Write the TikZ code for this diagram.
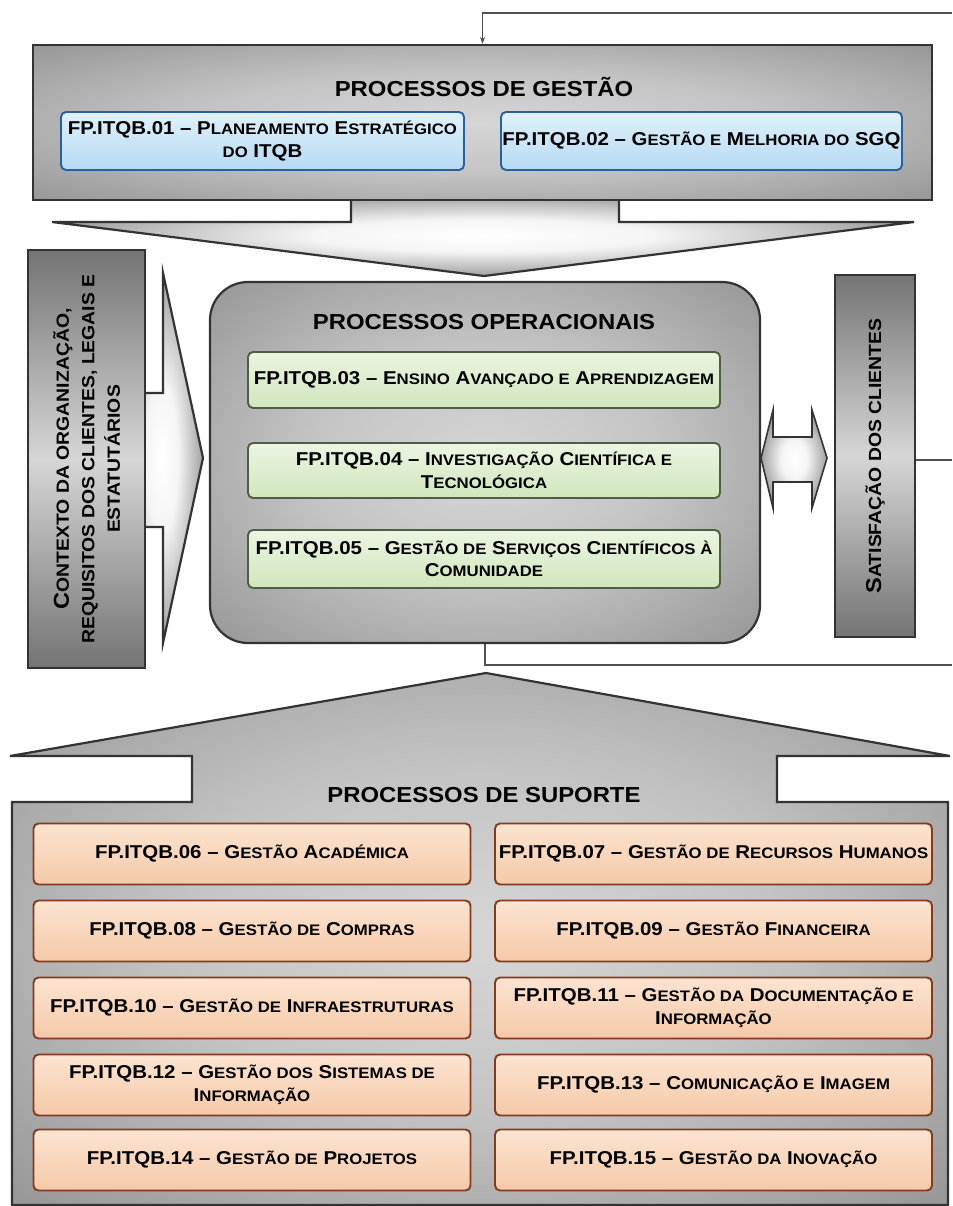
\documentclass[tikz,border=0pt]{standalone}
\usepackage{fontspec}
\setmainfont{Liberation Sans}[FakeStretch=1.1]
\usepackage{graphicx}
\usetikzlibrary{arrows.meta}
\newcommand\sm[1]{\scalebox{0.82}{#1}}
\definecolor{edgec}{HTML}{333333}
\definecolor{metalD}{HTML}{747474}
\definecolor{metalM}{HTML}{9A9A9A}
\definecolor{metalL}{HTML}{D6D6D6}
\definecolor{blueedge}{HTML}{2A5F9A}
\definecolor{bluetop}{HTML}{E0F1FC}
\definecolor{bluebot}{HTML}{B6DAF2}
\definecolor{greenedge}{HTML}{4E5D44}
\definecolor{greentop}{HTML}{ECF5E2}
\definecolor{greenbot}{HTML}{D0E6BC}
\definecolor{orangeedge}{HTML}{843A20}
\definecolor{orangetop}{HTML}{FCE4D1}
\definecolor{orangebot}{HTML}{F5C9A8}
\definecolor{linec}{HTML}{505050}
\pgfdeclareradialshading{metalrad}{\pgfpoint{0bp}{0bp}}{%
  color(0bp)=(metalL); color(16bp)=(metalL!70!metalM); color(34bp)=(metalM); color(50bp)=(metalD); color(75bp)=(metalD!85!black)}
\pgfdeclareradialshading{brightrad}{\pgfpoint{0bp}{0bp}}{%
  color(0bp)=(white); color(10bp)=(white!75!metalL); color(26bp)=(metalM); color(44bp)=(metalD); color(75bp)=(metalD)}
\begin{document}
\begin{tikzpicture}[x=1pt,y=-1pt,
  edge/.style={draw=edgec, line width=2.2pt, line join=miter},
  metal/.style={edge, shading=metalrad},
  bright/.style={edge, shading=brightrad},
  bigbox/.style={metal, inner sep=0pt},
  sidebox/.style={edge, top color=metalD, bottom color=metalD, middle color=metalL, inner sep=0pt, align=center, font=\fontsize{21.5}{25.5}\selectfont\bfseries},
  title/.style={font=\fontsize{21.7}{24}\selectfont\bfseries, text=black, inner sep=0pt},
  boxtxt/.style={font=\fontsize{18.6}{22.5}\selectfont\bfseries, align=center, inner sep=0pt, line width=1.9pt, rounded corners=5pt},
  bluebox/.style={boxtxt, draw=blueedge, top color=bluetop, bottom color=bluebot},
  greenbox/.style={boxtxt, draw=greenedge, top color=greentop, bottom color=greenbot, minimum width=472},
  orangebox/.style={boxtxt, draw=orangeedge, top color=orangetop, bottom color=orangebot, minimum width=437, minimum height=61},
  conn/.style={draw=linec, line width=1.6pt},
]
\useasboundingbox (0,0) rectangle (952,1206);

% ---- management ----
\draw[bright] (351,195) -- (351,222) -- (52,222) -- (484,276) -- (914,222) -- (619,222) -- (619,195) -- cycle;
\node[bigbox, minimum width=899, minimum height=155] (gestao) at (482.5,122.5) {};
\node[title] (tg) at (484,87) {PROCESSOS DE GESTÃO};
\node[bluebox, minimum width=403, minimum height=58] (p01) at (262.5,141)
  {FP.ITQB.01 – P\sm{LANEAMENTO} E\sm{STRATÉGICO}\\\sm{DO} ITQB};
\node[bluebox, minimum width=401, minimum height=58] (p02) at (701.5,141)
  {FP.ITQB.02 – G\sm{ESTÃO E} M\sm{ELHORIA DO} SGQ};

% ---- context (left) ----
\draw[bright] (120,393) -- (163,393) -- (163,273) -- (203,458) -- (163,643) -- (163,527) -- (120,527) -- cycle;
\node[sidebox, rotate=90, minimum width=418, minimum height=117] (ctx) at (86.5,459)
  {C\sm{ONTEXTO DA ORGANIZAÇÃO,}\\\sm{REQUISITOS DOS CLIENTES, LEGAIS E}\\\sm{ESTATUTÁRIOS}};

% ---- operational ----
\node[bigbox, rounded corners=38pt, minimum width=550, minimum height=361] (op) at (485,462.5) {};
\node[title] (to) at (484,322) {PROCESSOS OPERACIONAIS};
\node[greenbox, minimum height=56] (p03) at (484,380)
  {FP.ITQB.03 – E\sm{NSINO} A\sm{VANÇADO E} A\sm{PRENDIZAGEM}};
\node[greenbox, minimum height=55] (p04) at (484,470.5)
  {FP.ITQB.04 – I\sm{NVESTIGAÇÃO} C\sm{IENTÍFICA E}\\T\sm{ECNOLÓGICA}};
\node[greenbox, minimum height=58] (p05) at (484,559)
  {FP.ITQB.05 – G\sm{ESTÃO DE} S\sm{ERVIÇOS} C\sm{IENTÍFICOS À}\\C\sm{OMUNIDADE}};

% ---- double arrow & satisfaction ----
\draw[bright, line width=1.6pt] (761,458) -- (773,410) -- (773,437) -- (812,437) -- (812,410) -- (827,458)
  -- (812,508) -- (812,482) -- (773,482) -- (773,508) -- cycle;
\node[sidebox, rotate=90, minimum width=362, minimum height=80] (sat) at (875,456)
  {S\sm{ATISFAÇÃO DOS CLIENTES}};

% ---- support ----
\draw[metal] (12,1205) -- (12,802) -- (192,802) -- (192,756) -- (10,756) -- (486,673) -- (950,756)
  -- (777,756) -- (777,802) -- (948,802) -- (948,1205) -- cycle;
\node[title] (ts) at (484,795) {PROCESSOS DE SUPORTE};
\node[orangebox] (p06) at (252,854)  {FP.ITQB.06 – G\sm{ESTÃO} A\sm{CADÉMICA}};
\node[orangebox] (p07) at (713.5,854) {FP.ITQB.07 – G\sm{ESTÃO DE} R\sm{ECURSOS} H\sm{UMANOS}};
\node[orangebox] (p08) at (252,931)  {FP.ITQB.08 – G\sm{ESTÃO DE} C\sm{OMPRAS}};
\node[orangebox] (p09) at (713.5,931) {FP.ITQB.09 – G\sm{ESTÃO} F\sm{INANCEIRA}};
\node[orangebox] (p10) at (252,1008)  {FP.ITQB.10 – G\sm{ESTÃO DE} I\sm{NFRAESTRUTURAS}};
\node[orangebox] (p11) at (713.5,1008) {FP.ITQB.11 – G\sm{ESTÃO DA} D\sm{OCUMENTAÇÃO E}\\I\sm{NFORMAÇÃO}};
\node[orangebox] (p12) at (252,1085)  {FP.ITQB.12 – G\sm{ESTÃO DOS} S\sm{ISTEMAS DE}\\I\sm{NFORMAÇÃO}};
\node[orangebox] (p13) at (713.5,1085) {FP.ITQB.13 – C\sm{OMUNICAÇÃO E} I\sm{MAGEM}};
\node[orangebox] (p14) at (252,1160)  {FP.ITQB.14 – G\sm{ESTÃO DE} P\sm{ROJETOS}};
\node[orangebox] (p15) at (713.5,1160) {FP.ITQB.15 – G\sm{ESTÃO DA} I\sm{NOVAÇÃO}};

% ---- feedback connectors ----
\coordinate (fbTop) at (952,13);
\coordinate (fbBot) at (952,665);
\coordinate (satR) at (952,460);
\draw[conn, -{Stealth[length=7pt,width=5pt]}] (fbTop) -| (gestao.north);
\draw[conn] (op.south) |- (fbBot);
\draw[conn] (sat.south |- satR) -- (satR);
\end{tikzpicture}
\end{document}
